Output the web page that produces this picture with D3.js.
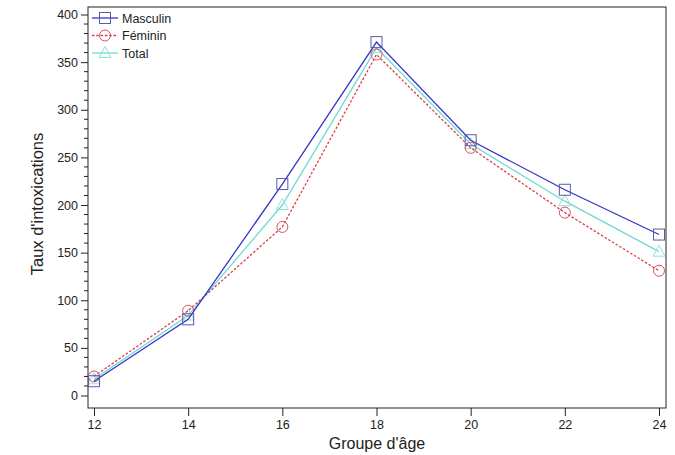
<!DOCTYPE html>
<html><head><meta charset="utf-8">
<script src="https://cdn.jsdelivr.net/npm/d3@7"></script>
<style>body{margin:0;background:#fff}svg{display:block;font-family:"Liberation Sans",Arial,sans-serif}</style>
</head><body><svg id="c" width="675" height="455"></svg>
<script>
const ages = [12, 14, 16, 18, 20, 22, 24];
const masculin = [15, 80, 222, 371, 268, 216, 169];
const feminin = [20, 89, 177, 358, 260, 192, 131];
const total = [17, 84, 200, 365, 264, 204, 151];
const yTicks = [0, 50, 100, 150, 200, 250, 300, 350, 400];
const seriesNames = ["Masculin", "Féminin", "Total"];

const svg = d3.select("#c");
const L = 88, R = 666, T = 7, B = 408;
const x = d3.scaleLinear().domain([12, 24]).range([94, 659]);
const y = d3.scaleLinear().domain([0, 400]).range([395.5, 14.5]);

// frame
svg.append("rect").attr("x", L).attr("y", T).attr("width", R - L).attr("height", B - T)
  .attr("fill", "none").attr("stroke", "#222").attr("stroke-width", 1);

// y axis
const yAx = svg.append("g").attr("transform", `translate(${L},0)`)
  .call(d3.axisLeft(y).tickValues(yTicks).tickSize(7).tickPadding(3).tickFormat(d3.format("d")));
yAx.select(".domain").remove();
yAx.selectAll("text").attr("font-size", 12.5).attr("fill", "#222").attr("font-family", "Liberation Sans, Arial, sans-serif");
yAx.selectAll("line").attr("stroke", "#222");
svg.append("g").selectAll("line").data(d3.range(0, 401, 10).filter(v => v % 50 !== 0)).join("line")
  .attr("x1", L - 4).attr("x2", L).attr("y1", d => y(d)).attr("y2", d => y(d)).attr("stroke", "#222");

// x axis
const xAx = svg.append("g").attr("transform", `translate(0,${B})`)
  .call(d3.axisBottom(x).tickValues(ages).tickSize(8).tickPadding(4).tickFormat(d3.format("d")));
xAx.select(".domain").remove();
xAx.selectAll("text").attr("font-size", 12.5).attr("fill", "#222").attr("font-family", "Liberation Sans, Arial, sans-serif");
xAx.selectAll("line").attr("stroke", "#222");

// titles
svg.append("text").attr("x", 377).attr("y", 449).attr("text-anchor", "middle")
  .attr("font-size", 16).attr("fill", "#222").text("Groupe d'âge");
svg.append("text").attr("transform", "translate(43,204) rotate(-90)").attr("text-anchor", "middle")
  .attr("font-size", 16.5).attr("fill", "#222").text("Taux d'intoxications");

const line = d3.line().x((d, i) => x(ages[i])).y(d => y(d));
const specs = [
  {name: seriesNames[0], data: masculin, color: "#3535c8", marker: "#5a5aa8", dash: null, sym: "square"},
  {name: seriesNames[1], data: feminin, color: "#e03a45", marker: "#d9505c", dash: "2.5,1.8", sym: "circle"},
  {name: seriesNames[2], data: total, color: "#6fdad2", marker: "#8fe0da", dash: null, sym: "triangle"}
];
function marker(g, sym, cx, cy, color) {
  if (sym === "square") g.append("rect").attr("x", cx - 5.5).attr("y", cy - 5.5).attr("width", 11).attr("height", 11)
    .attr("fill", "none").attr("stroke", color).attr("stroke-width", 1);
  else if (sym === "circle") g.append("circle").attr("cx", cx).attr("cy", cy).attr("r", 5.5)
    .attr("fill", "none").attr("stroke", color).attr("stroke-width", 1);
  else g.append("path").attr("d", `M${cx},${cy - 6.5}L${cx + 6},${cy + 4.5}L${cx - 6},${cy + 4.5}Z`)
    .attr("fill", "none").attr("stroke", color).attr("stroke-width", 1);
}
[specs[2], specs[1], specs[0]].forEach(s => {
  const g = svg.append("g");
  g.append("path").attr("d", line(s.data)).attr("fill", "none").attr("stroke", s.color)
    .attr("stroke-width", 1.3).attr("stroke-dasharray", s.dash);
  s.data.forEach((v, i) => marker(g, s.sym, x(ages[i]), y(v), s.marker));
});

// legend
specs.forEach((s, i) => {
  const ly = 18 + i * 17.5;
  const g = svg.append("g");
  g.append("line").attr("x1", 92).attr("x2", 118).attr("y1", ly).attr("y2", ly)
    .attr("stroke", s.color).attr("stroke-width", 1.3).attr("stroke-dasharray", s.dash);
  marker(g, s.sym, 105, ly, s.marker);
  g.append("text").attr("x", 122).attr("y", ly + 4.5).attr("font-size", 12.5).attr("fill", "#222").text(s.name);
});
</script></body></html>
